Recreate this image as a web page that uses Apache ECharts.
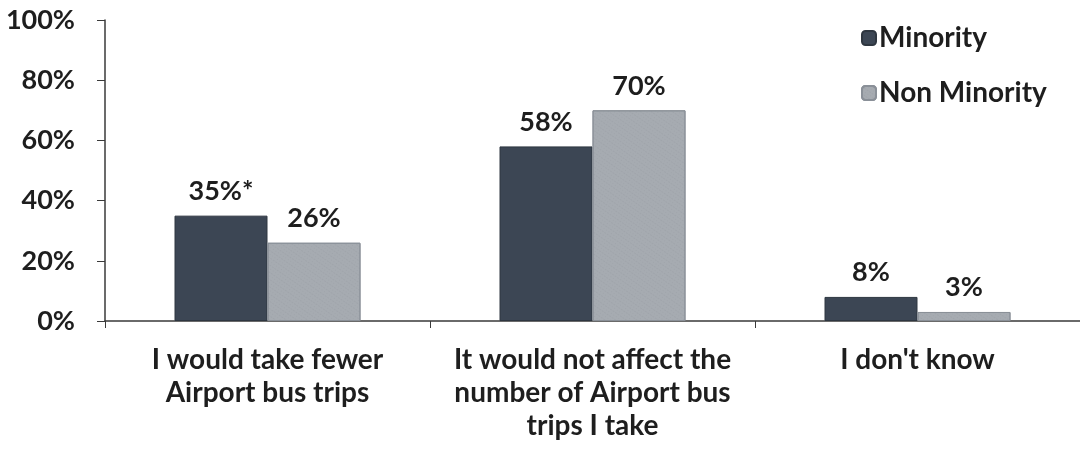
<!DOCTYPE html>
<html>
<head>
<meta charset="utf-8">
<script src="https://cdn.jsdelivr.net/npm/echarts@6/dist/echarts.min.js"></script>
<style>
  html, body { margin: 0; padding: 0; background: #ffffff; }
  #chart { width: 1080px; height: 453px; }
</style>
</head>
<body>
<div id="chart"></div>
<script>
// Responses to the Airport bus question, by group (percent)
const categories = [
  'I would take fewer\nAirport bus trips',
  'It would not affect the\nnumber of Airport bus\ntrips I take',
  "I don't know"
];
const minorityValues = [35, 58, 8];
const nonMinorityValues = [26, 70, 3];
// footnote marks appended to a value label (significance flag)
const minorityNotes = ['*', '', ''];
const nonMinorityNotes = ['', '', ''];
const yTicks = [0, 20, 40, 60, 80, 100];

const FONT = 'Lato, "Open Sans", sans-serif';
const TEXT = '#1e1e1e';

const chart = echarts.init(document.getElementById('chart'));

function valueLabel(notes) {
  return {
    show: true,
    position: 'top',
    distance: 11,
    color: TEXT,
    fontFamily: FONT,
    fontWeight: 'bold',
    fontSize: 27,
    formatter: p => p.value + '%' + notes[p.dataIndex]
  };
}

chart.setOption({
  backgroundColor: '#ffffff',
  animation: false,
  grid: { left: 105, top: 20, right: -12, height: 301, containLabel: false },
  legend: {
    orient: 'vertical',
    left: 856,
    top: 19,
    itemWidth: 14,
    itemHeight: 14,
    itemGap: 27,
    icon: 'roundRect',
    textStyle: { color: TEXT, fontFamily: FONT, fontWeight: 'bold', fontSize: 28, padding: [0, 0, 0, -2] },
    data: ['Minority', 'Non Minority']
  },
  xAxis: {
    type: 'category',
    data: categories,
    axisLine: { show: true, lineStyle: { color: '#3a3a3a', width: 1.5 } },
    axisTick: { show: true, length: 7, lineStyle: { color: '#3a3a3a' } },
    axisLabel: {
      color: TEXT,
      fontFamily: FONT,
      fontWeight: 'bold',
      fontSize: 28,
      lineHeight: 33,
      margin: 22,
      interval: 0
    }
  },
  yAxis: {
    type: 'value',
    min: yTicks[0],
    max: yTicks[yTicks.length - 1],
    interval: yTicks[1] - yTicks[0],
    axisLine: { show: true, lineStyle: { color: '#3a3a3a', width: 1.5 } },
    axisTick: { show: true, length: 8, lineStyle: { color: '#3a3a3a' } },
    splitLine: { show: false },
    axisLabel: {
      color: TEXT,
      fontFamily: FONT,
      fontWeight: 'bold',
      fontSize: 27,
      margin: 30,
      formatter: '{value}%'
    }
  },
  series: [
    {
      name: 'Minority',
      type: 'bar',
      data: minorityValues,
      barWidth: 93,
      barGap: '0%',
      itemStyle: { color: '#3c4654', borderColor: '#2e3640', borderWidth: 1 },
      label: valueLabel(minorityNotes)
    },
    {
      name: 'Non Minority',
      type: 'bar',
      data: nonMinorityValues,
      barWidth: 93,
      barGap: '0%',
      itemStyle: {
        color: '#a6abb1',
        borderColor: '#8a9098',
        borderWidth: 1,
        decal: {
          symbol: 'rect',
          symbolSize: 0.35,
          dashArrayX: [[1, 2], [2, 1]],
          dashArrayY: [1, 2],
          rotation: 0.6,
          color: 'rgba(90,98,110,0.45)'
        }
      },
      label: valueLabel(nonMinorityNotes)
    }
  ]
});
</script>
</body>
</html>
